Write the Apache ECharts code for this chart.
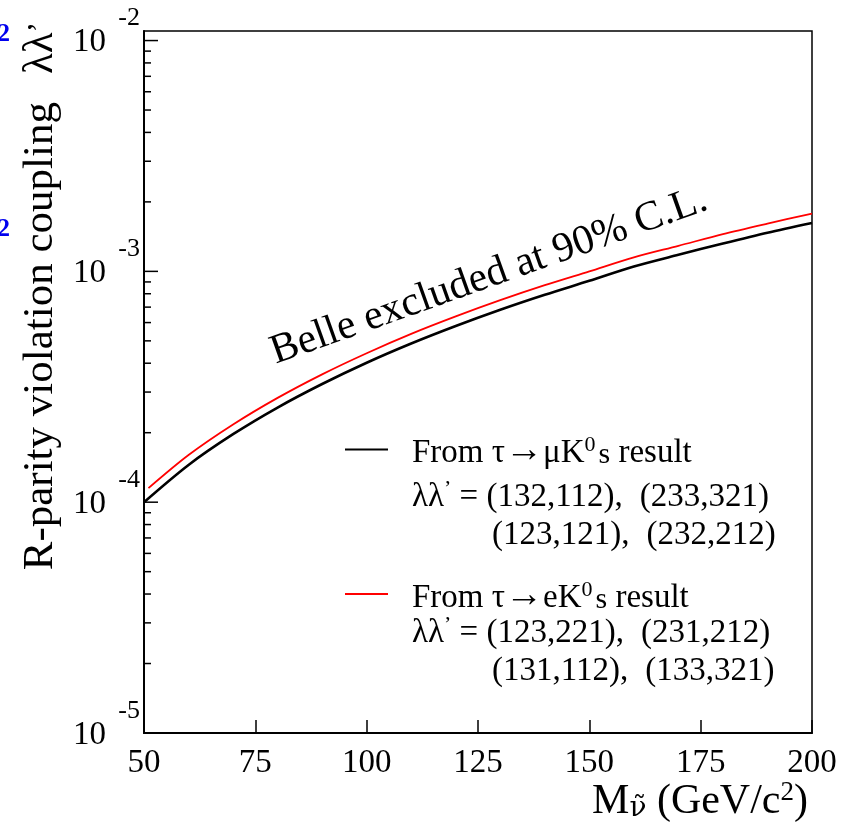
<!DOCTYPE html>
<html>
<head>
<meta charset="utf-8">
<script src="https://cdn.jsdelivr.net/npm/echarts@6.0.0/dist/echarts.min.js"></script>
<style>
html, body { margin: 0; padding: 0; background: #fff; }
#chart { width: 859px; height: 823px; }
</style>
</head>
<body>
<div id="chart"></div>
<script>
// sneutrino mass (GeV/c^2) and limit on lambda*lambda'
var massMu = [50, 60, 70, 80, 90, 100, 110, 120, 130, 140, 150, 160, 170, 180, 190, 200];
var limitMu = [1.00e-4, 1.45e-4, 1.97e-4, 2.57e-4, 3.25e-4, 4.02e-4, 4.87e-4, 5.80e-4,
    6.82e-4, 7.92e-4, 9.10e-4, 1.05e-3, 1.18e-3, 1.32e-3, 1.47e-3, 1.62e-3];
var massE = [51, 60, 70, 80, 90, 100, 110, 120, 130, 140, 150, 160, 170, 180, 190, 200];
var limitE = [1.15e-4, 1.60e-4, 2.17e-4, 2.83e-4, 3.58e-4, 4.42e-4, 5.36e-4, 6.38e-4,
    7.50e-4, 8.71e-4, 1.00e-3, 1.15e-3, 1.29e-3, 1.45e-3, 1.61e-3, 1.78e-3];
var xTicks = [50, 75, 100, 125, 150, 175, 200];
var yMin = 1e-5, yMax = 0.011;

var serif = 'Liberation Serif';

// log ticks 1..9 x 10^n along the left axis
var yTicks = [];
for (var e = -5; e <= -2; e++) {
    for (var k = 1; k <= 9; k++) {
        var v = k * Math.pow(10, e);
        if (v <= yMax) yTicks.push([50, v]);
    }
}

function isPow10(v) {
    var l = Math.log10(v);
    return Math.abs(l - Math.round(l)) < 1e-6;
}

var chart = echarts.init(document.getElementById('chart'));

var option = {
    animation: false,
    backgroundColor: '#fff',
    grid: {
        left: 144, right: 47, top: 31, bottom: 90,
        show: true, borderColor: '#000', borderWidth: 1.5,
        containLabel: false, outerBoundsMode: 'none'
    },
    xAxis: {
        type: 'value',
        min: 50, max: 200, interval: 25,
        axisLine: { lineStyle: { color: '#000', width: 2 } },
        axisTick: { inside: true, length: 13, lineStyle: { color: '#000', width: 1.5 } },
        splitLine: { show: false },
        axisLabel: {
            color: '#000', fontFamily: serif, fontSize: 33, margin: 14,
            formatter: function (v) { return xTicks.indexOf(v) >= 0 ? String(v) : ''; }
        }
    },
    yAxis: {
        type: 'log',
        min: yMin, max: yMax, splitNumber: 3,
        axisLine: { lineStyle: { color: '#000', width: 2 } },
        axisTick: { show: false },
        splitLine: { show: false },
        axisLabel: {
            margin: 4,
            padding: [0, 0, 14, 0],
            formatter: function (v) {
                if (!isPow10(v)) return '';
                return '{s|' + Math.round(Math.log10(v)) + '}\n{b|10}';
            },
            rich: {
                s: { fontFamily: serif, fontSize: 26, lineHeight: 18, color: '#000' },
                b: { fontFamily: serif, fontSize: 33, lineHeight: 30, color: '#000', padding: [0, 34, 0, 0] }
            }
        }
    },
    series: [
        {
            name: 'ticks',
            type: 'custom',
            silent: true,
            clip: false,
            data: yTicks,
            renderItem: function (params, api) {
                var val = api.value(1);
                var p = api.coord([api.value(0), val]);
                var len = isPow10(val) ? 14 : 7;
                return {
                    type: 'line',
                    shape: { x1: p[0], y1: p[1], x2: p[0] + len, y2: p[1] },
                    style: { stroke: '#000', lineWidth: 1.5 }
                };
            }
        },
        {
            name: 'mu',
            type: 'line',
            showSymbol: false,
            smooth: 0.3,
            data: massMu.map(function (m, i) { return [m, limitMu[i]]; }),
            lineStyle: { color: '#000', width: 2.6 }
        },
        {
            name: 'e',
            type: 'line',
            showSymbol: false,
            smooth: 0.3,
            data: massE.map(function (m, i) { return [m, limitE[i]]; }),
            lineStyle: { color: '#ff0000', width: 1.8 }
        }
    ],
    graphic: [
        // stray blue marks at the left edge
        { type: 'text', x: 10, y: 35, style: { text: '2', fontFamily: serif, fontSize: 25, fontWeight: 'bold', fill: '#0000ee', align: 'right', verticalAlign: 'middle', textAlign: 'right', textVerticalAlign: 'middle' } },
        { type: 'text', x: 10, y: 230, style: { text: '2', fontFamily: serif, fontSize: 25, fontWeight: 'bold', fill: '#0000ee', align: 'right', verticalAlign: 'middle', textAlign: 'right', textVerticalAlign: 'middle' } },
        // y title
        {
            type: 'text', x: 41, y: 296, rotation: Math.PI / 2,
            style: {
                text: '{t|R-parity violation coupling}{g| }{t|λλ}{p|’}',
                align: 'center', verticalAlign: 'middle', textAlign: 'center', textVerticalAlign: 'middle',
                fill: '#000',
                rich: {
                    t: { fontFamily: serif, fontSize: 43, lineHeight: 46, fill: '#000', verticalAlign: 'middle' },
                    g: { fontFamily: serif, fontSize: 43, width: 28 },
                    p: { fontFamily: serif, fontSize: 32, lineHeight: 46, fill: '#000', verticalAlign: 'middle' }
                }
            }
        },
        // x title
        {
            type: 'text', x: 808, y: 801,
            style: {
                text: '{t|M}{sub|ν\u0303}{t| (GeV/c}{sup|2}{t|)}',
                align: 'right', verticalAlign: 'middle', textAlign: 'right', textVerticalAlign: 'middle',
                fill: '#000',
                rich: {
                    t: { fontFamily: serif, fontSize: 42, lineHeight: 44, fill: '#000', verticalAlign: 'bottom' },
                    sub: { fontFamily: 'DejaVu Serif', fontSize: 28, lineHeight: 14, fill: '#000', verticalAlign: 'bottom' },
                    sup: { fontFamily: serif, fontSize: 27, lineHeight: 16, fill: '#000', verticalAlign: 'top' }
                }
            }
        },
        // exclusion label
        {
            type: 'text', x: 489, y: 276, rotation: 0.343,
            style: {
                text: 'Belle excluded at 90% C.L.', fontFamily: serif, fontSize: 41.7, fill: '#000',
                align: 'center', verticalAlign: 'middle', textAlign: 'center', textVerticalAlign: 'middle'
            }
        },
        // legend
        { type: 'line', shape: { x1: 345, y1: 449.5, x2: 388, y2: 449.5 }, style: { stroke: '#000', lineWidth: 2 } },
        { type: 'line', shape: { x1: 345, y1: 594, x2: 388, y2: 594 }, style: { stroke: '#ff0000', lineWidth: 2 } },
        legendText(412, 452, '{t|From τ}{ar|→}{t|μK}{sup|0}{s|s}{t| result}'),
        legendText(412, 496, '{t|λλ}{sup|’}{t| = (132,112),}{g| }{t|(233,321)}'),
        legendText(492, 534, '{t|(123,121),}{g| }{t|(232,212)}'),
        legendText(412, 597, '{t|From τ}{ar|→}{t|eK}{sup|0}{s|s}{t| result}'),
        legendText(412, 632, '{t|λλ}{sup|’}{t| = (123,221),}{g| }{t|(231,212)}'),
        legendText(492, 670, '{t|(131,112),}{g| }{t|(133,321)}')
    ]
};

function legendText(x, y, txt) {
    return {
        type: 'text', x: x, y: y,
        style: {
            text: txt,
            align: 'left', verticalAlign: 'middle', textAlign: 'left', textVerticalAlign: 'middle',
            fill: '#000',
            rich: {
                t: { fontFamily: serif, fontSize: 33, lineHeight: 36, fill: '#000', verticalAlign: 'bottom' },
                ar: { fontFamily: serif, fontSize: 38, lineHeight: 36, fill: '#000', verticalAlign: 'bottom' },
                s: { fontFamily: serif, fontSize: 30, lineHeight: 36, fill: '#000', verticalAlign: 'bottom', padding: [0, 0, 0, 3] },
                g: { fontFamily: serif, fontSize: 33, width: 17 },
                sup: { fontFamily: serif, fontSize: 22, lineHeight: 18, fill: '#000', verticalAlign: 'top' }
            }
        }
    };
}

chart.setOption(option);
</script>
</body>
</html>
